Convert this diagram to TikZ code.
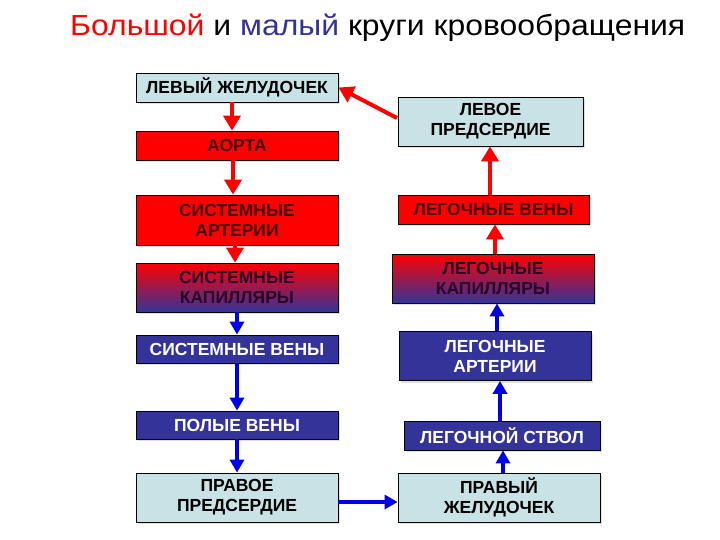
\documentclass[tikz,border=0pt]{standalone}
\usepackage{fontspec}
\setmainfont{Liberation Sans}
\newfontfamily\titlefont[FakeStretch=1.1]{Liberation Sans}
\usetikzlibrary{arrows.meta,shadows}
\definecolor{lblue}{RGB}{200,226,230}
\definecolor{dblue}{RGB}{51,51,153}
\definecolor{myred}{RGB}{255,0,0}
\definecolor{arrblue}{RGB}{0,0,230}
\definecolor{rtext}{RGB}{70,0,0}
\tikzset{
  base/.style={draw=black, line width=0.8pt, inner sep=0pt, align=center,
    font=\bfseries\fontsize{17.5}{20}\selectfont,
    drop shadow={opacity=0.25, shadow xshift=2pt, shadow yshift=-2pt}},
  lbox/.style={base, fill=lblue, text=black},
  rbox/.style={base, fill=myred, text=rtext},
  bbox/.style={base, fill=dblue, text=white},
  gbox/.style={base, top color=myred, bottom color=dblue, text={rgb,255:red,40;green,0;blue,40}},
  rarr/.style={draw=myred, line width=4pt, -{Triangle[width=17pt,length=15pt]}},
  barr/.style={draw=arrblue, line width=3.5pt, -{Triangle[width=14pt,length=13pt]}}
}
\begin{document}
\begin{tikzpicture}[x=1pt,y=-1pt]
\useasboundingbox (0,0) rectangle (720,540);
\fill[white] (0,0) rectangle (720,540);
\node[anchor=base west, inner sep=0pt, font=\titlefont\fontsize{29}{34}\selectfont] (title) at (70,36)
  {\textcolor{myred}{Большой} и \textcolor{dblue}{малый} круги кровообращения};
% left column
\node[lbox, minimum width=202pt, minimum height=29pt] (lv) at (237,87.5) {ЛЕВЫЙ ЖЕЛУДОЧЕК};
\node[rbox, minimum width=202pt, minimum height=29pt] (ao) at (237,145.5) {АОРТА};
\node[rbox, minimum width=202pt, minimum height=50pt] (sa) at (237,220) {СИСТЕМНЫЕ\\АРТЕРИИ};
\node[gbox, minimum width=202pt, minimum height=49pt] (sk) at (237,287.5) {СИСТЕМНЫЕ\\КАПИЛЛЯРЫ};
\node[bbox, minimum width=202pt, minimum height=28pt] (sv) at (237,349) {СИСТЕМНЫЕ ВЕНЫ};
\node[bbox, minimum width=202pt, minimum height=28pt] (pv) at (237,425) {ПОЛЫЕ ВЕНЫ};
\node[lbox, minimum width=202pt, minimum height=49pt] (ra) at (237,497.5) {ПРАВОЕ\\ПРЕДСЕРДИЕ};
% right column
\node[lbox, minimum width=185pt, minimum height=49pt] (la) at (490.5,121.5) {ЛЕВОЕ\\ПРЕДСЕРДИЕ};
\node[rbox, minimum width=191pt, minimum height=29pt] (lvn) at (493.5,209.5) {ЛЕГОЧНЫЕ ВЕНЫ};
\node[gbox, minimum width=202pt, minimum height=49pt] (lk) at (493,278.5) {ЛЕГОЧНЫЕ\\КАПИЛЛЯРЫ};
\node[bbox, minimum width=192pt, minimum height=49pt] (la2) at (495,356) {ЛЕГОЧНЫЕ\\АРТЕРИИ};
\node[bbox, minimum width=196pt, minimum height=29pt] (ls) at (502,435.5) {ЛЕГОЧНОЙ СТВОЛ};
\node[lbox, minimum width=202pt, minimum height=49pt] (rv) at (499,497.5) {ПРАВЫЙ\\ЖЕЛУДОЧЕК};
\coordinate (lafrom) at (397,118);
% arrows
\draw[rarr] ([xshift=-5pt]lv.south) -- ([xshift=-5pt]ao.north);
\draw[rarr] ([xshift=-4pt]ao.south) -- ([xshift=-4pt]sa.north);
\draw[rarr] ([xshift=-2pt]sa.south) -- ([xshift=-2pt]sk.north);
\draw[barr] (sk.south) -- (sv.north);
\draw[barr] (sv.south) -- (pv.north);
\draw[barr] (pv.south) -- (ra.north);
\draw[barr] ([yshift=-4.5pt]ra.east) -- ([yshift=-4.5pt]ra.east -| rv.west);
\draw[barr] ([xshift=4pt]rv.north) -- ([xshift=4pt]rv.north |- ls.south);
\draw[barr] ([xshift=-2pt]ls.north) -- ([xshift=-2pt]ls.north |- la2.south);
\draw[barr] ([xshift=2pt]la2.north) -- ([xshift=2pt]la2.north |- lk.south);
\draw[rarr] ([xshift=2pt]lk.north) -- ([xshift=2pt]lk.north |- lvn.south);
\draw[rarr] ([xshift=-3.5pt]lvn.north) -- ([xshift=-3.5pt]lvn.north |- la.south);
\draw[rarr] (lafrom) -- (lv.east);
\end{tikzpicture}
\end{document}
